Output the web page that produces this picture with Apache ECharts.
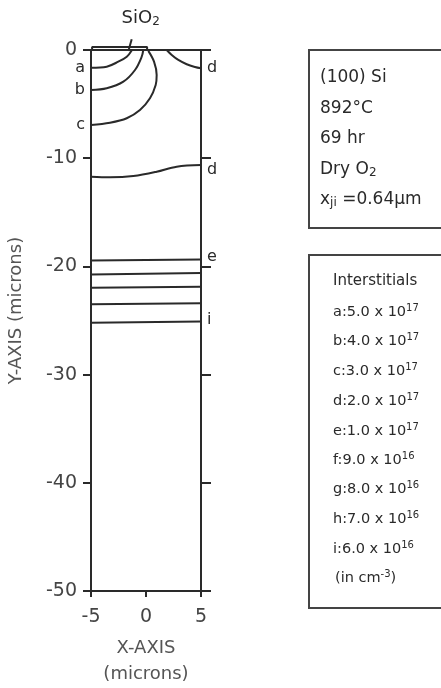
<!DOCTYPE html>
<html>
<head>
<meta charset="utf-8">
<script src="https://cdn.jsdelivr.net/npm/echarts@6/dist/echarts.min.js"></script>
<style>
html,body{margin:0;padding:0;background:#fff;}
#chart{width:441px;height:688px;}
</style>
</head>
<body>
<div id="chart"></div>
<script>
// ---- data ----
const curveA = [[-5,-1.64],[-3.57,-1.54],[-2.52,-1.08],[-1.75,-0.62],[-1.3,-0.04]];
const curveB = [[-5,-3.7],[-3.57,-3.54],[-2.06,-2.93],[-1.0,-1.85],[-0.39,-0.62],[-0.25,0]];
const curveC = [[-5,-6.93],[-3.27,-6.72],[-1.75,-6.31],[-0.55,-5.55],[0.36,-4.46],[0.88,-3.23],[0.97,-2.31],[0.73,-1.08],[0.21,-0.08]];
const curveD1 = [[1.88,0],[2.34,-0.46],[2.94,-0.92],[3.7,-1.32],[4.45,-1.57],[5,-1.69]];
const curveD2 = [[-5,-11.71],[-3.27,-11.77],[-1.15,-11.65],[0.97,-11.25],[2.79,-10.78],[5,-10.63]];
const lineE = [[-5,-19.45],[5,-19.36]];
const lineF = [[-5,-20.75],[5,-20.6]];
const lineG = [[-5,-21.97],[5,-21.87]];
const lineH = [[-5,-23.5],[5,-23.4]];
const lineI = [[-5,-25.2],[5,-25.1]];
const oxide = [[-4.9,0],[-4.9,0.28],[0.1,0.28],[0.1,0]];
const leader = [[-1.3,1.0],[-1.6,-0.1]];
const topEdge = [[-5.3,0],[6.0,0]];
const bottomEdge = [[-6.0,-50],[6.0,-50]];
const xTickInterval = 5;
const yTickInterval = 10;
const conditions = ['(100) Si','892°C','69 hr','Dry O{sub|2}','x{sub|ji} =0.64\u00b5m'];
const legendTitle = 'Interstitials';
const legendLetters = ['a','b','c','d','e','f','g','h','i'];
const legendMant = ['5.0','4.0','3.0','2.0','1.0','9.0','8.0','7.0','6.0'];
const legendExp = ['17','17','17','17','17','16','16','16','16'];
const unitText = '(in cm{sup|-3})';

const INK = '#2a2a2a';
const FONT = 'DejaVu Sans';
const chart = echarts.init(document.getElementById('chart'), null, {renderer:'canvas'});

function lbl(text, pos, off){
  return {show:true, formatter:text, position:pos, distance:5, offset:off||[0,0],
          fontSize:16, color:INK, fontFamily:FONT};
}
function withLabels(arr, first, last){
  return arr.map((p,i)=>{
    if(i===0 && first) return {value:p, label:first};
    if(i===arr.length-1 && last) return {value:p, label:last};
    return {value:p};
  });
}
function lineSeries(data, smooth){
  return {type:'line', data:data, smooth:smooth?0.35:false, symbol:'circle', symbolSize:0,
          showSymbol:true, clip:false, silent:true,
          lineStyle:{color:INK, width:2}, itemStyle:{color:INK}, label:{show:false}};
}

const series = [
  lineSeries(topEdge,false),
  lineSeries(bottomEdge,false),
  lineSeries(oxide,false),
  lineSeries(withLabels(leader, {show:true, formatter:'{n|SiO}{s|2}', position:'top', distance:6, offset:[9,-5],
     color:INK, fontFamily:FONT, rich:{n:{fontSize:18,color:INK,fontFamily:FONT}, s:{fontSize:12,color:INK,fontFamily:FONT,verticalAlign:'bottom',padding:[7,0,0,0]}}}, null), false),
  lineSeries(withLabels(curveA, lbl('a','left',[-1,0]), null), true),
  lineSeries(withLabels(curveB, lbl('b','left',[-1,0]), null), true),
  lineSeries(withLabels(curveC, lbl('c','left',[-1,0]), null), true),
  lineSeries(withLabels(curveD1, null, lbl('d','right',[1,0])), true),
  lineSeries(withLabels(curveD2, null, lbl('d','right',[1,5])), true),
  lineSeries(withLabels(lineE, null, lbl('e','right',[1,-3])), false),
  lineSeries(lineF,false),
  lineSeries(lineG,false),
  lineSeries(lineH,false),
  lineSeries(withLabels(lineI, null, lbl('i','right',[1,-2])), false)
];

const graphic = [
  {type:'rect', shape:{x:309,y:50,width:150,height:178}, style:{fill:'none', stroke:'#444', lineWidth:2}},
  {type:'rect', shape:{x:309,y:255,width:150,height:353}, style:{fill:'none', stroke:'#444', lineWidth:2}}
];
const subRich = {sub:{fontSize:12, fontFamily:FONT, fill:INK, verticalAlign:'bottom', padding:[6,0,0,0]}};
const box1Y = [78,108.5,139,170,200];
conditions.forEach((t,i)=>{
  graphic.push({type:'text', style:{x:320, y:box1Y[i], text:t, fill:INK, fontSize:17, fontFamily:FONT,
    verticalAlign:'middle', align:'left', rich:subRich}});
});
const supRich = {sup:{fontSize:10, fontFamily:FONT, fill:INK, verticalAlign:'top', padding:[0,0,7,0]}};
graphic.push({type:'text', style:{x:333, y:281, text:legendTitle, fill:INK, fontSize:15, fontFamily:FONT, verticalAlign:'middle', align:'left'}});
const box2Y = [312,341,371,401,431,460,489,519,549];
legendLetters.forEach((l,i)=>{
  graphic.push({type:'text', style:{x:333, y:box2Y[i], text:l+':'+legendMant[i]+' x 10{sup|'+legendExp[i]+'}',
    fill:INK, fontSize:14.5, fontFamily:FONT, verticalAlign:'middle', align:'left', rich:supRich}});
});
graphic.push({type:'text', style:{x:335, y:578, text:unitText, fill:INK, fontSize:14.5, fontFamily:FONT, verticalAlign:'middle', align:'left', rich:supRich}});

chart.setOption({
  animation:false,
  backgroundColor:'#fff',
  grid:{left:91, right:240, top:50, bottom:97, containLabel:false, outerBoundsMode:'none'},
  xAxis:{type:'value', min:-5, max:5, interval:xTickInterval,
    axisLine:{show:true, onZero:false, lineStyle:{color:INK, width:2}},
    axisTick:{show:true, length:6, lineStyle:{color:INK, width:2}},
    axisLabel:{fontSize:19, color:'#444', margin:17, fontFamily:FONT},
    splitLine:{show:false},
    name:'X-AXIS\n(microns)', nameLocation:'middle', nameGap:44,
    nameTextStyle:{fontSize:18, lineHeight:26, color:'#555', fontFamily:FONT}},
  yAxis:[
    {type:'value', min:-50, max:0, interval:yTickInterval, position:'left',
     axisLine:{show:true, onZero:false, lineStyle:{color:INK, width:2}},
     axisTick:{show:true, length:8, lineStyle:{color:INK, width:2}},
     axisLabel:{fontSize:19, color:'#444', margin:14, fontFamily:FONT},
     splitLine:{show:false},
     name:'Y-AXIS (microns)', nameLocation:'middle', nameGap:66,
     nameTextStyle:{fontSize:18, color:'#555', fontFamily:FONT, padding:[0,0,0,20]}},
    {type:'value', min:-50, max:0, interval:yTickInterval, position:'right',
     axisLine:{show:true, onZero:false, lineStyle:{color:INK, width:2}},
     axisTick:{show:true, length:10, lineStyle:{color:INK, width:2}},
     axisLabel:{show:false}, splitLine:{show:false}}
  ],
  series:series,
  graphic:graphic
});
</script>
</body>
</html>
